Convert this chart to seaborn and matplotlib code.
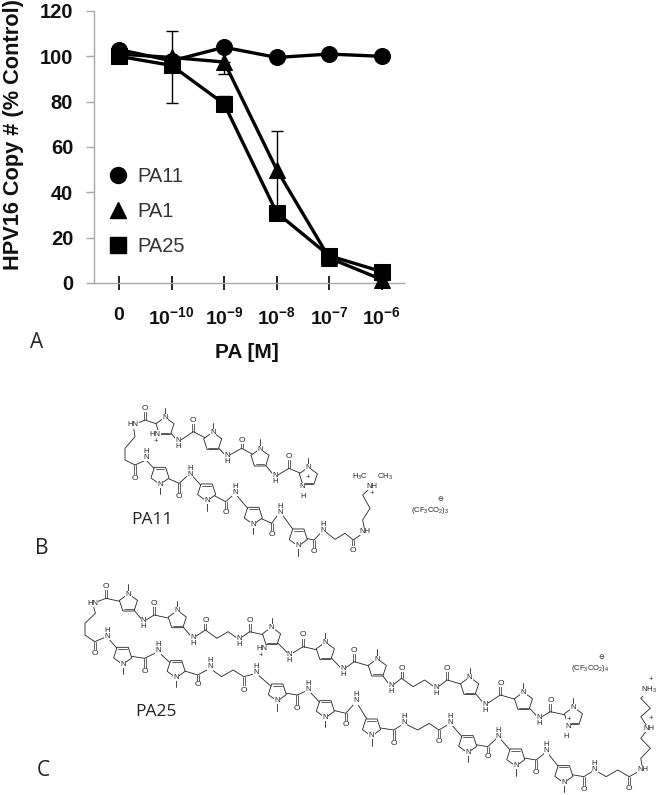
import numpy as np
import pandas as pd
import seaborn as sns
import matplotlib.pyplot as plt
from matplotlib.lines import Line2D

sns.set_theme(style="white")
plt.rcParams['font.family'] = ['Liberation Sans', 'DejaVu Sans']
plt.rcParams['mathtext.fontset'] = 'custom'
plt.rcParams['mathtext.bf'] = 'Liberation Sans:bold'
plt.rcParams['mathtext.rm'] = 'Liberation Sans'

# valores
concs = ['0', '10-10', '10-9', '10-8', '10-7', '10-6']
tick_labels = ['0', r'$\mathbf{10^{-10}}$', r'$\mathbf{10^{-9}}$', r'$\mathbf{10^{-8}}$',
               r'$\mathbf{10^{-7}}$', r'$\mathbf{10^{-6}}$']
pa11 = [103, 98, 104, 99.5, 101, 100]
pa1 = [101, 99.5, 97.5, 50, 11, 1.5]
pa25 = [100, 96, 79, 31, 12, 5]
pa1_err_up = [0, 11.5, 0, 17, 0, 0]
pa1_err_down = [0, 20, 5.5, 19, 0, 0]
pa25_err_up = [0, 0, 3.5, 0, 0, 0]
pa25_err_down = [0, 0, 0, 0, 0, 0]

# moleculas, em coordenadas de pixel dos recortes ampliados
pa11_path_a = [(130, 135), (165, 120), (225, 140), (265, 185), (310, 155), (368, 185), (410, 230),
               (455, 205), (510, 235), (555, 290), (597, 265), (655, 290)]
pa11_path_b = [(130, 135), (135, 170), (105, 205), (105, 240), (135, 255), (168, 240), (210, 285),
               (268, 310), (300, 280), (350, 335), (407, 365), (435, 340), (490, 405), (545, 430),
               (570, 395), (625, 470), (672, 480), (700, 450), (735, 478), (765, 460), (790, 480),
               (825, 455), (818, 420), (840, 385), (818, 345), (845, 320)]
pa11_rings = [(225, 140, -1), (368, 185, -1), (510, 235, -1), (655, 290, -1),
              (210, 285, 1), (350, 335, 1), (490, 405, 1), (625, 470, 1)]
pa11_co = [(165, 120, 165, 85), (310, 155, 310, 120), (455, 205, 455, 180), (597, 265, 597, 230),
           (135, 255, 135, 295), (268, 310, 268, 350), (407, 365, 407, 397), (545, 430, 545, 465),
           (672, 480, 672, 515), (790, 480, 790, 510)]
pa11_nh_below = [(265, 185), (410, 230), (555, 290)]
pa11_nh_above = [(168, 230), (300, 280), (435, 335), (570, 395), (700, 450)]
pa11_labels = [(130, 135, 'HN'), (195, 162, 'HN'), (825, 455, 'NH'), (845, 320, 'NH'),
               (810, 290, 'H$_3$C'), (885, 290, 'CH$_3$'), (635, 320, 'N'), (640, 348, 'H'),
               (197, 185, '+'), (845, 340, '+'), (652, 293, '+')]

pa25_path_a = [(85, 70), (120, 55), (178, 70), (217, 125), (245, 105), (305, 120), (345, 175),
               (378, 150), (408, 175), (437, 155), (465, 178), (493, 155), (550, 170), (597, 225),
               (632, 200), (690, 215), (735, 270), (765, 245), (825, 265), (860, 320), (888, 295),
               (918, 320), (948, 300), (978, 325), (1007, 300), (1065, 320), (1105, 375),
               (1145, 345), (1205, 365), (1245, 415), (1275, 395), (1335, 410)]
pa25_path_b = [(85, 70), (92, 100), (65, 130), (65, 165), (90, 185), (122, 170), (163, 225),
               (220, 235), (255, 215), (302, 265), (358, 285), (390, 265), (420, 290), (450, 270),
               (478, 290), (510, 280), (565, 335), (617, 345), (645, 330), (690, 385), (743, 400),
               (770, 365), (810, 440), (868, 450), (895, 430), (930, 450), (960, 430), (985, 450),
               (1015, 430), (1060, 490), (1112, 500), (1140, 470), (1185, 530), (1238, 540),
               (1265, 515), (1310, 580), (1362, 590), (1390, 570), (1420, 590), (1450, 570),
               (1480, 590), (1515, 568), (1510, 535), (1535, 505), (1510, 475), (1530, 445),
               (1510, 410), (1535, 385), (1510, 355), (1530, 330)]
pa25_rings = [(178, 70, -1), (305, 120, -1), (550, 170, -1), (690, 215, -1), (825, 265, -1),
              (1065, 320, -1), (1205, 365, -1), (1335, 410, -1), (163, 225, 1), (302, 265, 1),
              (565, 335, 1), (690, 385, 1), (810, 440, 1), (1060, 490, 1), (1185, 530, 1),
              (1310, 580, 1)]
pa25_co = [(120, 55, 120, 20), (245, 105, 245, 70), (378, 150, 378, 122), (493, 155, 493, 122),
           (632, 200, 632, 165), (765, 245, 765, 212), (888, 295, 888, 265), (1007, 300, 1007, 265),
           (1145, 345, 1145, 310), (1275, 395, 1275, 360), (90, 185, 90, 220), (220, 235, 220, 275),
           (358, 285, 358, 315), (478, 290, 478, 330), (617, 345, 617, 385), (743, 400, 743, 435),
           (868, 450, 868, 490), (985, 450, 985, 485), (1112, 500, 1112, 530), (1238, 540, 1238, 578),
           (1362, 590, 1362, 628), (1480, 590, 1480, 625)]
pa25_nh_below = [(217, 125), (345, 175), (465, 178), (597, 225), (735, 270), (860, 320), (978, 325),
                 (1105, 375), (1245, 415)]
pa25_nh_above = [(122, 165), (255, 210), (390, 258), (510, 275), (645, 325), (770, 360), (895, 425),
                 (1015, 425), (1140, 465), (1265, 510), (1390, 565)]
pa25_labels = [(85, 70, 'HN'), (525, 205, 'HN'), (1515, 568, 'NH'), (1530, 445, 'NH'),
               (1530, 330, 'NH$_3$'), (1320, 440, 'N'), (1315, 470, 'H'),
               (522, 228, '+'), (1322, 418, '+'), (1535, 300, '+'), (1535, 416, '+')]


def draw_molecule(ax, ox, oy, sx, paths, rings, carbonyls, nh_below, nh_above, labels):
    def px(x, y):
        return ox + x / sx, oy + y / 3

    for path in paths:
        xs, ys = zip(*[px(*p) for p in path])
        ax.plot(xs, ys, color='#222222', lw=0.6, zorder=1)

    for x, y, side in rings:
        cx, cy = px(x, y)
        ang = np.radians(np.array([90, 162, 234, 306, 378]))
        rx = cx + 9.5 * np.cos(ang)
        ry = cy + side * 9.5 * np.sin(ang)
        ax.fill(rx, ry, facecolor='white', edgecolor='#222222', lw=0.6, zorder=2)
        ax.plot([rx[2] * 0.8 + cx * 0.2, rx[3] * 0.8 + cx * 0.2], [ry[2] * 0.8 + cy * 0.2, ry[3] * 0.8 + cy * 0.2],
                color='#222222', lw=0.5, zorder=3)
        ax.plot([cx, cx], [cy + side * 9, cy + side * 19], color='#222222', lw=0.6, zorder=2)
        ax.text(cx, cy + side * 9, 'N', fontsize=5.5, ha='center', va='center', color='#222222', zorder=4,
                bbox=dict(fc='white', ec='none', pad=0.2))

    for x1, y1, x2, y2 in carbonyls:
        a, b = px(x1, y1)
        c, d = px(x2, y2)
        ax.plot([a - 1, c - 1], [b, d], color='#222222', lw=0.5, zorder=1)
        ax.plot([a + 1, c + 1], [b, d], color='#222222', lw=0.5, zorder=1)
        ax.text(c, d, 'O', fontsize=6, ha='center', va='center', color='#222222', zorder=4,
                bbox=dict(fc='white', ec='none', pad=0.2))

    for x, y in nh_below:
        a, b = px(x, y)
        ax.text(a, b + 2, 'N\nH', fontsize=5.5, ha='center', va='center', linespacing=0.8, color='#222222',
                zorder=4, bbox=dict(fc='white', ec='none', pad=0.1))
    for x, y in nh_above:
        a, b = px(x, y)
        ax.text(a, b - 2, 'H\nN', fontsize=5.5, ha='center', va='center', linespacing=0.8, color='#222222',
                zorder=4, bbox=dict(fc='white', ec='none', pad=0.1))
    for x, y, txt in labels:
        a, b = px(x, y)
        ax.text(a, b, txt, fontsize=5.5, ha='center', va='center', color='#222222', zorder=4,
                bbox=dict(fc='white', ec='none', pad=0.2))


fig = plt.figure(figsize=(6.63, 7.95), dpi=100)

# camada de fundo em pixels para as estruturas
bg = fig.add_axes([0, 0, 1, 1])
bg.set_xlim(0, 663)
bg.set_ylim(795, 0)
bg.axis('off')
draw_molecule(bg, 90, 380, 3, [pa11_path_a, pa11_path_b], pa11_rings, pa11_co, pa11_nh_below, pa11_nh_above, pa11_labels)
draw_molecule(bg, 60, 580, 2.6, [pa25_path_a, pa25_path_b], pa25_rings, pa25_co, pa25_nh_below, pa25_nh_above, pa25_labels)

for x, y, letra in [(37, 342, 'A'), (42, 549, 'B'), (43, 770, 'C')]:
    bg.text(x, y, letra, fontsize=15, family='Open Sans', ha='center', va='center', color='#222222')
bg.text(152, 520.5, 'PA11', fontsize=12.5, family='Open Sans', ha='center', va='center', color='#222222')
bg.text(156, 712, 'PA25', fontsize=12.5, family='Open Sans', ha='center', va='center', color='#222222')
bg.text(430, 510, '(CF$_3$CO$_2$)$_3$', fontsize=5.5, ha='center', va='center', color='#222222')
bg.text(440, 499, '\u2296', fontsize=5, family='DejaVu Sans', ha='center', va='center', color='#222222')
bg.text(590, 668, '(CF$_3$CO$_2$)$_4$', fontsize=5.5, ha='center', va='center', color='#222222')
bg.text(601, 657, '\u2296', fontsize=5, family='DejaVu Sans', ha='center', va='center', color='#222222')

# grafico principal
ax = fig.add_axes([94 / 663, 1 - 283 / 795, 310 / 663, 272 / 795])
ax.patch.set_alpha(0)

df = pd.DataFrame({
    'pos': list(range(len(concs))) * 3,
    'valor': pa11 + pa1 + pa25,
    'serie': ['PA11'] * 6 + ['PA1'] * 6 + ['PA25'] * 6,
})
marcadores = {'PA11': 'o', 'PA1': '^', 'PA25': 's'}
sns.lineplot(data=df, x='pos', y='valor', hue='serie', style='serie', markers=marcadores, dashes=False,
             palette={'PA11': 'black', 'PA1': 'black', 'PA25': 'black'}, linewidth=2.4, markersize=11.5,
             markeredgecolor='black', legend=False, ax=ax, zorder=3, clip_on=False)

pos = np.arange(len(concs))
ax.errorbar(pos, pa1, yerr=[pa1_err_down, pa1_err_up], fmt='none', ecolor='black', elinewidth=1,
            capsize=4.5, capthick=1, zorder=2)
ax.errorbar(pos, pa25, yerr=[pa25_err_down, pa25_err_up], fmt='none', ecolor='black', elinewidth=1,
            capsize=4.5, capthick=1, zorder=2)

ax.set_xlim(-0.475, 5.42)
ax.set_ylim(0, 120)
ax.set_xticks(pos)
ax.set_xticklabels(tick_labels, fontsize=14, fontweight='bold', color='#111111')
ax.set_yticks(range(0, 121, 20))
ax.tick_params(axis='y', labelsize=14.5, length=6, width=1, color='#a8a8a8', left=True, pad=9)
ax.tick_params(axis='x', length=10, width=1.2, color='black', direction='inout', bottom=True, pad=12)
for lab in ax.get_yticklabels():
    lab.set_fontweight('bold')
    lab.set_color('#111111')
for lado in ['top', 'right']:
    ax.spines[lado].set_visible(False)
for lado in ['left', 'bottom']:
    ax.spines[lado].set_color('#a8a8a8')
    ax.spines[lado].set_linewidth(1)

ax.set_xlabel('PA [M]', fontsize=15, fontweight='bold', color='#111111')
ax.set_ylabel('HPV16 Copy # (% Control)', fontsize=15.7, fontweight='bold', color='#111111')
ax.xaxis.set_label_coords((247 - 94) / 310, -(353 - 283) / 272)
ax.yaxis.set_label_coords(-(94 - 14) / 310, (283 - 135) / 272)
ax.xaxis.label.set_va('center')
ax.yaxis.label.set_va('center')

handles = [Line2D([], [], color='black', ls='none', marker=marcadores[s], markersize=11.5) for s in ['PA11', 'PA1', 'PA25']]
ax.legend(handles, ['PA11', 'PA1', 'PA25'], frameon=False, fontsize=14.5, loc='upper left',
          bbox_to_anchor=(-0.025, 0.492), labelspacing=0.78, handlelength=1.4, handletextpad=0.25, labelcolor='#333333')

plt.savefig('out.png', dpi=100)
